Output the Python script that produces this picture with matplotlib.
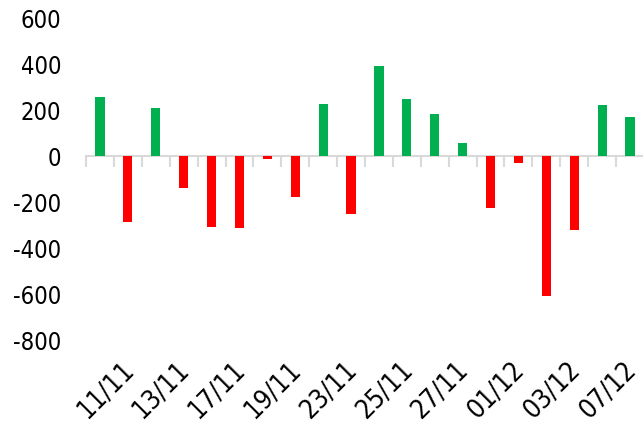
import matplotlib
matplotlib.use("Agg")
import matplotlib.pyplot as plt
import matplotlib.transforms as mtransforms
import numpy as np

dates = ["11/11", "12/11", "13/11", "16/11", "17/11", "18/11", "19/11", "20/11",
         "23/11", "24/11", "25/11", "26/11", "27/11", "30/11", "01/12", "02/12",
         "03/12", "04/12", "07/12", "08/12"]
values = [257, -285, 210, -138, -307, -312, -12, -177, 226, -251,
          391, 248, 183, 57, -225, -29, -608, -320, 222, 170]
yticks = [600, 400, 200, 0, -200, -400, -600, -800]

GREEN = "#00B050"
RED = "#FF0000"
AXIS_GREY = "#D9D9D9"

plt.rcParams['font.family'] = ['DejaVu Sans']

fig = plt.figure(figsize=(6.43, 4.30), dpi=100)
ax = fig.add_axes([86/643, 90/430, 558/643, 322/430])

x = np.arange(len(values))
colors = [GREEN if v >= 0 else RED for v in values]
ax.bar(x, values, width=0.33, color=colors, zorder=3)

ax.set_xlim(-0.5, len(values) - 0.5)
ax.set_ylim(-800, 600)
ax.set_yticks(yticks)
ax.set_yticklabels([str(t) for t in yticks], fontsize=17, fontstretch='condensed')
ax.tick_params(axis='y', length=0, pad=18)

for s in ['top', 'right', 'left']:
    ax.spines[s].set_visible(False)
ax.spines['bottom'].set_position(('data', 0))
ax.spines['bottom'].set_color(AXIS_GREY)
ax.spines['bottom'].set_linewidth(1.5)
ax.spines['bottom'].set_zorder(2)

ax.set_xticks([])
ax.set_xticks(np.arange(-0.5, len(values)), minor=True)
ax.tick_params(axis='x', which='minor', length=8, width=1.5, color=AXIS_GREY,
               direction='out', labelbottom=False)

trans = mtransforms.blended_transform_factory(ax.transData, ax.transAxes)
off = mtransforms.ScaledTranslation(30/100, -26/100, fig.dpi_scale_trans)
for i in range(0, len(dates), 2):
    ax.text(i, 0, dates[i], transform=trans + off, rotation=45,
            rotation_mode='anchor', ha='right', va='center', fontsize=19,
            fontstretch='condensed', clip_on=False)

fig.savefig("out.png", dpi=100)
